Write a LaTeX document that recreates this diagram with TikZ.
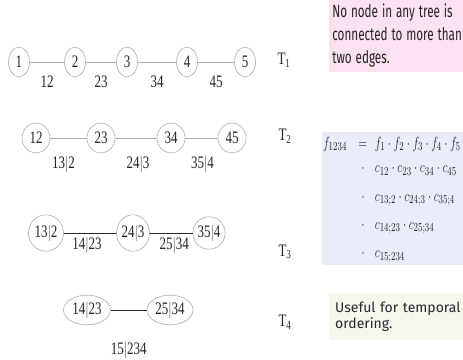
\documentclass[tikz,border=0pt]{standalone}
\usepackage{amsmath}
\usepackage{fontspec}
\setmainfont{Liberation Serif}
\newfontfamily\notefont{Fira Sans}
\usetikzlibrary{shapes.geometric, positioning, calc}
\definecolor{notePink}{RGB}{250,226,242}
\definecolor{noteBlue}{RGB}{233,236,248}
\definecolor{noteCream}{RGB}{246,248,237}
\tikzset{
  treeTxt/.style={font=\fontsize{13}{13}\selectfont, text=black!85, yscale=1.35},
  vtxNode/.style={ellipse, draw=gray!65, line width=0.6pt, inner sep=0pt, treeTxt},
  edgeLbl/.style={treeTxt, inner sep=0pt},
  edgeThin/.style={draw=gray!65, line width=0.7pt},
  edgeDark/.style={draw=black!85, line width=0.8pt},
  treeName/.style={treeTxt, inner sep=0pt},
  noteBox/.style={rectangle, align=left, text=black!85, inner ysep=0pt},
}

\begin{document}
\begin{tikzpicture}[x=1pt, y=-1pt]
\useasboundingbox (0,0) rectangle (463,359);
\clip (0,0) rectangle (463,359);

% T1
\node (a1) [vtxNode, minimum width=21pt, minimum height=22pt] at (19,62) {1};
\node (a2) [vtxNode, minimum width=21pt, minimum height=22pt] at (75,62) {2};
\node (a3) [vtxNode, minimum width=21pt, minimum height=22pt] at (127,62) {3};
\node (a4) [vtxNode, minimum width=21pt, minimum height=22pt] at (187,62) {4};
\node (a5) [vtxNode, minimum width=21pt, minimum height=22pt] at (245,62) {5};
\draw [edgeThin] (a1) -- node[yshift=-20pt, edgeLbl]{12} (a2)
  -- node[yshift=-20pt, edgeLbl]{23} (a3)
  -- node[yshift=-20pt, edgeLbl]{34} (a4)
  -- node[yshift=-20pt, edgeLbl]{45} (a5);
\node (t1) [treeName] at (284,60) {T\textsubscript{1}};

% T2
\node (b1) [vtxNode, minimum width=28pt, minimum height=22pt] at (36,138) {12};
\node (b2) [vtxNode, minimum width=28pt, minimum height=22pt] at (101,138) {23};
\node (b3) [vtxNode, minimum width=28pt, minimum height=22pt] at (171,138) {34};
\node (b4) [vtxNode, minimum width=28pt, minimum height=22pt] at (232,138) {45};
\draw [edgeThin] (b1) -- node[xshift=-5pt, yshift=-26pt, edgeLbl]{13$|$2} (b2)
  -- node[xshift=2pt, yshift=-26pt, edgeLbl]{24$|$3} (b3)
  -- node[xshift=1pt, yshift=-26pt, edgeLbl]{35$|$4} (b4);
\node (t2) [treeName] at (285,136) {T\textsubscript{2}};

% T3
\node (c1) [vtxNode, minimum width=35pt, minimum height=27pt] at (46,233) {13$|$2};
\node (c2) [vtxNode, minimum width=33pt, minimum height=27pt] at (133,233) {24$|$3};
\node (c3) [vtxNode, minimum width=29pt, minimum height=24pt] at (209,233) {35$|$4};
\draw [edgeDark] (c1) -- node[xshift=-3pt, yshift=-12pt, edgeLbl]{14$|$23} (c2)
  -- node[xshift=3pt, yshift=-12pt, edgeLbl]{25$|$34} (c3);
\node (t3) [treeName] at (285,252) {T\textsubscript{3}};

% T4
\node (d1) [vtxNode, minimum width=47pt, minimum height=22pt] at (87,310) {14$|$23};
\node (d2) [vtxNode, minimum width=46pt, minimum height=22pt] at (170,310) {25$|$34};
\draw [edgeDark] (d1) -- node[yshift=-40pt, edgeLbl]{15$|$234} (d2);
\node (t4) [treeName] at (285,322) {T\textsubscript{4}};

% notes on the right
\node (noteTop) [noteBox, fill=notePink, anchor=north west, text width=160pt,
  minimum height=54pt, inner xsep=3.5pt, xscale=0.9, yscale=1.35,
  font=\notefont\fontsize{13}{17}\selectfont] at (329,-1)
  {No node in any tree is\\connected to more than\\two edges.};

\node (mathBox) [noteBox, fill=noteBlue, anchor=north west, text width=150pt,
  minimum height=98.5pt, inner xsep=1pt, xscale=0.96, yscale=1.35,
  font=\fontsize{13}{16}\selectfont] at (322,132)
  {$\begin{array}{@{}r@{\hspace{12pt}}c@{\hspace{8pt}}l@{}}
    f_{1234} & = & f_1\cdot f_2\cdot f_3\cdot f_4\cdot f_5\\[2pt]
     & \cdot & c_{12}\cdot c_{23}\cdot c_{34}\cdot c_{45}\\[5pt]
     & \cdot & c_{13;2}\cdot c_{24;3}\cdot c_{35;4}\\[5pt]
     & \cdot & c_{14;23}\cdot c_{25;34}\\[5pt]
     & \cdot & c_{15;234}
  \end{array}$};

\node (noteBottom) [noteBox, fill=noteCream, anchor=north west, text width=150pt,
  minimum height=47pt, inner xsep=6pt,
  font=\notefont\fontsize{14}{15.5}\selectfont] at (329,293)
  {Useful for temporal\\ordering.};
\end{tikzpicture}
\end{document}
